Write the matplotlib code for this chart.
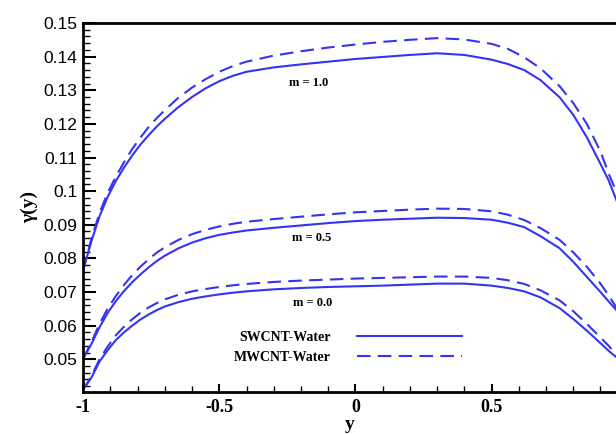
import matplotlib
matplotlib.use("Agg")
import matplotlib.pyplot as plt
from matplotlib.ticker import MultipleLocator, FormatStrFormatter

plt.rcParams['axes.unicode_minus'] = False

# y positions across the channel
y = [-1, -0.97, -0.94, -0.91, -0.88, -0.85, -0.82, -0.79, -0.76, -0.73, -0.7, -0.65, -0.6, -0.55,
     -0.5, -0.45, -0.4, -0.3, -0.2, -0.1, 0, 0.1, 0.2, 0.3, 0.4, 0.5, 0.56, 0.62, 0.68, 0.75,
     0.8, 0.85, 0.9, 0.93, 0.96]

# m = 1.0
sw_m10 = [0.0765, 0.085, 0.0925, 0.0983, 0.1030, 0.1070, 0.1106, 0.1138, 0.1166, 0.1192, 0.1215,
          0.1250, 0.1280, 0.1306, 0.1327, 0.1343, 0.1355, 0.1368, 0.1377, 0.1385, 0.1393, 0.1399,
          0.1405, 0.1410, 0.1405, 0.1391, 0.1378, 0.1360, 0.1330, 0.1279, 0.1227, 0.116, 0.1081,
          0.1032, 0.097]
mw_m10 = [0.0765, 0.0858, 0.0935, 0.0995, 0.1043, 0.1086, 0.1125, 0.1159, 0.1190, 0.1217, 0.1241,
          0.1278, 0.1308, 0.1333, 0.1355, 0.1372, 0.1385, 0.1403, 0.1416, 0.1427, 0.1436, 0.1444,
          0.1450, 0.1455, 0.1451, 0.1438, 0.1423, 0.1398, 0.1365, 0.1312, 0.1262, 0.12, 0.1118,
          0.1052, 0.0995]
# m = 0.5
sw_m05 = [0.0502, 0.0545, 0.0595, 0.0638, 0.0673, 0.0703, 0.0729, 0.0752, 0.0773, 0.0792, 0.0808,
          0.0830, 0.0847, 0.0860, 0.0870, 0.0877, 0.0883, 0.0891, 0.0898, 0.0905, 0.0911, 0.0915,
          0.0918, 0.0921, 0.0920, 0.0915, 0.0906, 0.0893, 0.0866, 0.083, 0.0790, 0.0745, 0.0700,
          0.0672, 0.0645]
mw_m05 = [0.0502, 0.055, 0.0605, 0.0651, 0.0688, 0.0721, 0.075, 0.0775, 0.0797, 0.0817, 0.0833,
          0.0855, 0.0872, 0.0885, 0.0895, 0.0903, 0.0909, 0.0917, 0.0924, 0.0931, 0.0937, 0.0941,
          0.0945, 0.0948, 0.0947, 0.0940, 0.0930, 0.0914, 0.0890, 0.0855, 0.0818, 0.0775, 0.0725,
          0.0690, 0.0652]
# m = 0.0
sw_m00 = [0.041, 0.0445, 0.0493, 0.0527, 0.0557, 0.058, 0.06, 0.0618, 0.0633, 0.0646, 0.0657,
          0.0670, 0.0680, 0.0687, 0.0693, 0.0698, 0.0702, 0.0708, 0.0712, 0.0715, 0.0717, 0.0719,
          0.0722, 0.0725, 0.0725, 0.0719, 0.0712, 0.0702, 0.0684, 0.0652, 0.0620, 0.0585, 0.0548,
          0.0525, 0.0505]
mw_m00 = [0.041, 0.0449, 0.05, 0.0538, 0.0571, 0.0597, 0.0619, 0.0638, 0.0654, 0.0667, 0.0678,
          0.0692, 0.0702, 0.0709, 0.0715, 0.072, 0.0724, 0.073, 0.0734, 0.0737, 0.074, 0.0742,
          0.0744, 0.0746, 0.0746, 0.0742, 0.0735, 0.0724, 0.0705, 0.0675, 0.0643, 0.0605, 0.0565,
          0.054, 0.0512]

labels = ["m = 1.0", "m = 0.5", "m = 0.0"]
label_pos = [(-0.172, 0.1322), (-0.16, 0.0862), (-0.157, 0.0666)]

blue = "#3434f4"
serif = "Liberation Serif"

fig = plt.figure(figsize=(6.16, 4.34), dpi=100)
ax = fig.add_axes([0.135, 0.097, 0.865, 0.85])

for sw, mw in [(sw_m10, mw_m10), (sw_m05, mw_m05), (sw_m00, mw_m00)]:
    ax.plot(y, sw, color=blue, lw=1.5, solid_joinstyle="round")
    ax.plot(y, mw, color=blue, lw=1.5, dashes=(6.5, 3.5))

for txt, (tx, ty) in zip(labels, label_pos):
    ax.text(tx, ty, txt, ha="center", va="center", fontsize=9, fontweight="bold", family=serif)

# legend entries
h1, = ax.plot([], [], color=blue, lw=1.5, label="SWCNT-Water")
h2, = ax.plot([], [], color=blue, lw=1.5, dashes=(6.5, 3.5), label="MWCNT-Water")
ax.legend(handles=[h1, h2], loc="center", bbox_to_anchor=(0.497, 0.12), frameon=False,
          markerfirst=False, handlelength=7.6, handletextpad=1.9, labelspacing=0.5,
          prop={"family": serif, "weight": "bold", "size": 10})

ax.set_xlim(-1, 0.957)
ax.set_ylim(0.0403, 0.15)
ax.spines["right"].set_visible(False)
for s in ["left", "top", "bottom"]:
    ax.spines[s].set_linewidth(2)

ax.xaxis.set_major_locator(MultipleLocator(0.5))
ax.xaxis.set_minor_locator(MultipleLocator(0.1))
ax.yaxis.set_major_locator(MultipleLocator(0.01))
ax.yaxis.set_minor_locator(MultipleLocator(0.002))
ax.xaxis.set_major_formatter(FormatStrFormatter("%g"))
ax.yaxis.set_major_formatter(FormatStrFormatter("%g"))

ax.tick_params(axis="both", which="both", direction="in", top=False, right=False, color="black")
ax.tick_params(axis="y", which="major", length=9, width=1.5, labelsize=12.5, pad=4)
ax.tick_params(axis="y", which="minor", length=5, width=1)
ax.tick_params(axis="x", which="major", length=6, width=1.5, pad=5)
ax.tick_params(axis="x", which="minor", length=4, width=1)

for lab in ax.get_yticklabels():
    lab.set_family("Liberation Sans")
for lab in ax.get_xticklabels():
    lab.set_family(serif)
    lab.set_fontweight("bold")
    lab.set_fontsize(13)

ax.set_xlabel("y", family=serif, fontweight="bold", fontsize=14, labelpad=0)
ax.set_ylabel("γ(y)", family=serif, fontweight="bold", fontsize=14, labelpad=4)

fig.savefig("out.png", dpi=100)
